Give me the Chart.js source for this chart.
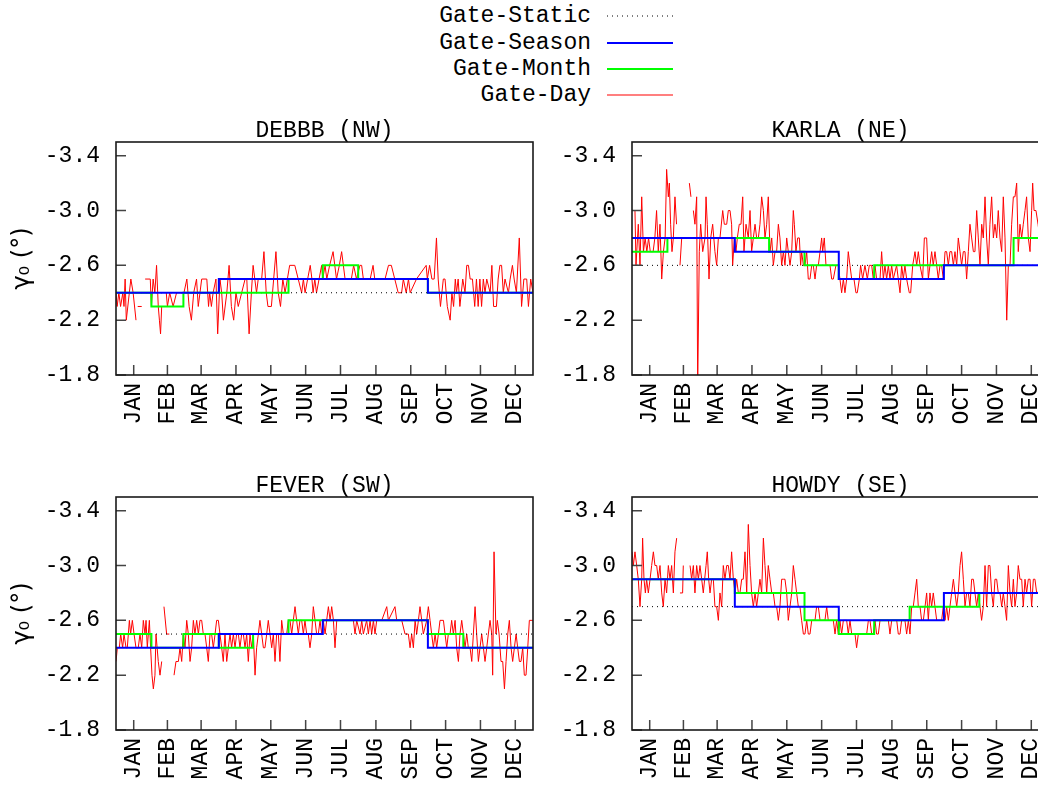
<!DOCTYPE html>
<html><head><meta charset="utf-8">
<script src="https://cdn.jsdelivr.net/npm/chart.js@4"></script>
<style>
html,body{margin:0;padding:0;width:1038px;height:789px;overflow:hidden;background:#fff;}
canvas{position:absolute;}
.lg{position:absolute;right:447px;font:23px 'Liberation Mono',monospace;line-height:26px;height:26px;color:#000;white-space:pre;}
svg.ls{position:absolute;left:606px;width:70px;height:10px;}
</style></head><body>
<div id="legend"></div>
<canvas id="c0" width="560" height="340" style="left:0;top:110px;width:560px;height:340px"></canvas>
<canvas id="c1" width="540" height="340" style="left:540px;top:110px;width:540px;height:340px"></canvas>
<canvas id="c2" width="560" height="324" style="left:0;top:465px;width:560px;height:324px"></canvas>
<canvas id="c3" width="540" height="324" style="left:540px;top:465px;width:540px;height:324px"></canvas>
<script>
const seriesNames = ['Gate-Static','Gate-Season','Gate-Month','Gate-Day'];
const panelTitles = ['DEBBB (NW)','KARLA (NE)','FEVER (SW)','HOWDY (SE)'];
const monthLabels = ['JAN','FEB','MAR','APR','MAY','JUN','JUL','AUG','SEP','OCT','NOV','DEC'];
const monthTicks = [15.5,45,74.5,105,135.5,166,196.5,227.5,258,288.5,319,349.5];
const monthStarts = [0,31,59,90,120,151,181,212,243,273,304,334];
const seasonStarts = [0,90,181,273];
const yTicks = [-3.4,-3.0,-2.6,-2.2,-1.8];
const yTitle = 'γ₀ (°)';

const debbbStatic = -2.4;
const debbbSeason = [-2.4,-2.5,-2.5,-2.4];
const debbbMonth = [-2.4,-2.3,-2.4,-2.4,-2.4,-2.5,-2.6,-2.5,-2.5,-2.4,-2.4,-2.4];
const debbbDay = [[0,-2.4],[1,-2.3],[2.5,-2.4],[4,-2.3],[6,-2.4],[7,-2.3],[8,-2.5],[9,-2.2],[13,-2.5],[15,-2.4],[17.5,-2.2],[18.5,null],[19,-2.3],[22.5,-2.3],[24,null],[25.5,-2.5],[30,-2.5],[31,-2.3],[32.5,-2.5],[34,-2.4],[35.5,-2.6],[37,-2.3],[38,-2.2],[39,-2.1],[40,-2.3],[42,null],[44,-2.4],[45,-2.3],[47,-2.4],[50,-2.3],[53,-2.4],[56,-2.4],[59.5,-2.4],[62,-2.5],[64,-2.3],[66,-2.2],[68,-2.4],[70.5,-2.5],[72,-2.3],[75,-2.5],[79.5,-2.5],[81,-2.3],[82,-2.4],[83.5,-2.3],[85,-2.4],[87.5,-2.5],[89,-2.1],[91,-2.5],[92.5,-2.4],[94,-2.2],[97,-2.4],[99,-2.6],[101,-2.3],[103,-2.2],[105,-2.4],[107,-2.3],[110,-2.4],[113,-2.5],[114.5,-2.5],[116.5,-2.1],[118.5,-2.4],[120,-2.6],[121.5,-2.5],[123,-2.4],[124.5,-2.5],[127.5,-2.5],[129.5,-2.7],[131.5,-2.4],[133,-2.3],[136,-2.3],[138,-2.5],[140,-2.7],[142,-2.4],[144,-2.3],[146,-2.5],[148,-2.4],[150,-2.5],[152,-2.6],[156.5,-2.6],[159.5,-2.5],[162.5,-2.4],[164,-2.5],[165.5,-2.4],[170,-2.6],[171.5,-2.5],[172.5,-2.4],[174,-2.5],[175.5,-2.4],[180,-2.6],[181,-2.5],[183,-2.6],[184.5,-2.5],[187,-2.6],[190,-2.7],[191.5,-2.6],[193,-2.5],[195.5,-2.6],[197.5,-2.7],[199,-2.6],[200.5,-2.5],[206,-2.5],[208,-2.6],[210.5,-2.5],[213.5,-2.6],[215,-2.6],[216.5,-2.5],[222.5,-2.5],[225,-2.6],[226.5,-2.5],[235.5,-2.5],[238.5,-2.6],[241,-2.6],[244,-2.5],[247,-2.4],[250,-2.4],[251.5,-2.5],[254,-2.4],[256,-2.5],[257.5,-2.4],[263,-2.5],[271.5,-2.6],[272.5,-2.5],[274.5,-2.6],[276.5,-2.5],[278.5,-2.5],[280.5,-2.8],[282,-2.5],[284,-2.3],[286.5,-2.5],[288,-2.5],[290,-2.3],[292.5,-2.2],[294,-2.4],[295.5,-2.3],[297,-2.5],[298,-2.4],[299.5,-2.5],[301,-2.3],[303.5,-2.5],[305.5,-2.4],[307,-2.6],[308.5,-2.6],[310,-2.5],[312,-2.5],[314,-2.3],[315.5,-2.5],[317,-2.3],[318.5,-2.5],[320,-2.3],[321.5,-2.5],[323,-2.4],[324.5,-2.5],[327.5,-2.4],[329,-2.6],[330.5,-2.3],[333,-2.3],[334.5,-2.5],[336,-2.6],[337.5,-2.6],[339,-2.4],[340.5,-2.5],[343.5,-2.4],[345,-2.5],[347,-2.6],[348.5,-2.5],[350.5,-2.4],[353,-2.8],[355,-2.3],[357,-2.5],[359.5,-2.5],[361,-2.3],[363,-2.5],[365,-2.4]];

const karlaStatic = -2.6;
const karlaSeason = [-2.8,-2.7,-2.5,-2.6];
const karlaMonth = [-2.7,-2.8,-2.8,-2.8,-2.7,-2.6,-2.5,-2.6,-2.6,-2.6,-2.6,-2.8];
const karlaDay = [[0,-3.0],[2.6,-3.0],[3.5,-2.6],[5.5,-2.9],[7,-2.6],[8.5,-3.1],[10,-2.7],[11.5,-2.8],[13,-2.7],[14.5,-2.8],[16,-2.7],[18.5,-2.7],[20,-2.8],[21.5,-3.0],[23,-2.7],[24.5,-2.9],[26,-2.5],[27.5,-2.7],[29,-2.8],[30.3,-3.3],[31.8,-3.1],[32.7,-3.2],[33.8,-2.9],[35,-2.7],[36.2,-2.8],[37.6,-3.1],[39,-2.9],[40,null],[42,-2.6],[43.5,-2.8],[45,null],[50.2,-3.2],[51.6,-3.1],[52.5,null],[53.7,-3.0],[55.1,-2.9],[56.6,-3.1],[57.5,-1.7],[58.9,-2.7],[60.1,-2.9],[61.9,-2.7],[63.9,-2.8],[64.8,-3.1],[65.9,-2.9],[67.4,-2.5],[68.9,-2.8],[70.6,-2.9],[72.6,-2.7],[74.1,-2.6],[75.6,-2.8],[77,-2.8],[79.4,-3.0],[80.8,-2.9],[82.9,-2.9],[84.3,-3.0],[85.8,-3.0],[87.2,-2.9],[88.1,-2.6],[89.6,-2.8],[91,-2.7],[92.2,-2.8],[93.9,-2.9],[95.4,-2.9],[96.9,-3.1],[98,-2.7],[99.8,-2.9],[101.8,-2.8],[103.3,-3.0],[104.7,-2.7],[106.2,-2.8],[107.7,-2.9],[109.1,-2.8],[110.6,-2.8],[112,-2.9],[113.5,-3.1],[115,-3.0],[116.4,-2.8],[117.9,-2.9],[119.3,-3.1],[120.8,-2.7],[122.3,-2.8],[123.7,-2.6],[125.2,-2.7],[126.6,-2.7],[128.1,-2.9],[129.5,-2.8],[131,-2.6],[132.5,-2.7],[133.9,-2.6],[135.4,-2.8],[136.8,-2.7],[138.3,-2.6],[139.8,-2.7],[141.2,-3.0],[142.1,-2.9],[143.5,-2.7],[145,-2.8],[146.5,-2.8],[147.6,-2.6],[148.5,-2.7],[150,-2.6],[151.4,-2.6],[152.9,-2.7],[154.3,-2.5],[155.8,-2.5],[157.3,-2.6],[158.7,-2.6],[160.2,-2.5],[161.6,-2.6],[163.1,-2.6],[164.6,-2.7],[166,-2.8],[166.9,-2.7],[168.3,-2.8],[169.8,-2.6],[171.8,-2.6],[173.3,-2.6],[174.8,-2.5],[176.2,-2.5],[178.5,-2.6],[180.6,-2.6],[182,-2.5],[183.5,-2.4],[185,-2.5],[186.4,-2.4],[187.9,-2.5],[189.3,-2.7],[190.8,-2.6],[192.3,-2.5],[194.3,-2.5],[196,-2.4],[197.2,-2.4],[199,-2.5],[200.1,-2.6],[201.9,-2.5],[203.9,-2.6],[206,-2.5],[207.7,-2.6],[209.8,-2.6],[211.2,-2.5],[212.7,-2.6],[214.1,-2.5],[217.1,-2.5],[218.5,-2.7],[220,-2.5],[221.4,-2.6],[222.9,-2.5],[224.4,-2.6],[225.8,-2.5],[227.3,-2.6],[228.7,-2.5],[231.6,-2.6],[233.1,-2.5],[234.6,-2.4],[236,-2.6],[237.5,-2.5],[238.9,-2.6],[240.4,-2.5],[242.7,-2.4],[243.9,-2.4],[245.7,-2.6],[247.7,-2.7],[249.2,-2.6],[250.6,-2.7],[252.1,-2.6],[254.4,-2.5],[255.9,-2.8],[257.9,-2.8],[259.4,-2.5],[260.8,-2.6],[262.3,-2.7],[263.7,-2.6],[265.2,-2.7],[266.7,-2.6],[268.1,-2.5],[269.6,-2.6],[271,-2.6],[272.5,-2.5],[274,-2.7],[275.4,-2.7],[276.9,-2.6],[278.3,-2.7],[279.8,-2.7],[281.3,-2.6],[282.7,-2.7],[284.2,-2.6],[285.6,-2.8],[287.1,-2.7],[288.5,-2.6],[290,-2.7],[291.5,-2.7],[292.9,-2.5],[294.4,-2.7],[295.8,-2.9],[297.3,-2.8],[298.8,-2.7],[300.2,-2.7],[301.7,-3.0],[303.1,-2.8],[304.6,-2.6],[306.1,-2.9],[307.5,-2.8],[309,-3.1],[310.4,-2.8],[311.9,-2.6],[313.3,-2.9],[314.8,-3.1],[316.3,-2.8],[317.7,-2.9],[319.2,-2.8],[320.6,-3.0],[322.1,-2.8],[323.6,-2.7],[325,-3.1],[326.5,-2.8],[328,-2.2],[329.4,-2.6],[330.9,-2.6],[332.3,-2.9],[333.8,-3.1],[335.2,-3.1],[336.7,-3.2],[338.1,-2.7],[339.6,-2.9],[341.1,-2.8],[342.5,-2.9],[344,-3.0],[345.4,-3.1],[346.9,-2.8],[348.4,-2.7],[349.8,-3.0],[350.7,-3.2],[351.9,-3.0],[353.6,-3.0],[355.4,-2.9],[357,-2.8],[359,-3.0],[361,-2.9],[363,-2.8],[365,-2.9]];

const feverStatic = -2.5;
const feverSeason = [-2.4,-2.5,-2.6,-2.4];
const feverMonth = [-2.5,-2.4,-2.5,-2.4,-2.5,-2.6,-2.6,-2.6,-2.6,-2.5,-2.4,-2.4];
const feverDay = [[0,-2.3],[1.2,-2.4],[2.9,-2.4],[4.1,-2.5],[5.8,-2.4],[7,-2.5],[8.8,-2.4],[9.9,-2.4],[11.7,-2.6],[12.8,-2.5],[14.3,-2.6],[15.8,-2.5],[17.5,-2.4],[19.5,-2.4],[21,-2.5],[22.5,-2.4],[23.9,-2.6],[25.4,-2.5],[26.3,-2.6],[27.4,-2.4],[29.2,-2.6],[30.3,-2.4],[31.5,-2.2],[32.7,-2.1],[34.1,-2.2],[35,-2.5],[37,-2.3],[38.5,-2.2],[40,-2.3],[41,null],[42,-2.7],[44.3,-2.5],[46.7,-2.5],[48,null],[50.8,-2.2],[52.5,-2.3],[54.6,-2.3],[56,-2.4],[57.5,-2.3],[58.9,-2.5],[60.4,-2.4],[61.9,-2.6],[63.3,-2.5],[64.8,-2.3],[66.2,-2.4],[67.7,-2.6],[69.1,-2.5],[70.6,-2.6],[72.1,-2.5],[73.5,-2.6],[75,-2.6],[76.4,-2.5],[77.9,-2.5],[79.4,-2.4],[80.8,-2.3],[82.3,-2.5],[83.7,-2.5],[85.2,-2.4],[86.7,-2.5],[88.1,-2.6],[89.6,-2.6],[91,-2.5],[92.5,-2.4],[93.9,-2.3],[95.4,-2.5],[96.9,-2.3],[98.3,-2.4],[99.8,-2.5],[101.2,-2.4],[102.7,-2.5],[104.2,-2.4],[105.6,-2.5],[107.1,-2.5],[108.5,-2.4],[110,-2.5],[111.5,-2.5],[112.9,-2.4],[114.4,-2.5],[115.8,-2.3],[117.3,-2.5],[118.7,-2.4],[120.2,-2.5],[121.7,-2.2],[123.1,-2.4],[124.6,-2.5],[126,-2.6],[127.5,-2.5],[129,-2.4],[130.4,-2.4],[131.9,-2.5],[133.3,-2.6],[134.8,-2.5],[136.3,-2.4],[137.7,-2.5],[139.2,-2.3],[140.6,-2.5],[142.1,-2.5],[143.5,-2.3],[145,-2.6],[146.5,-2.5],[149.4,-2.5],[150.8,-2.6],[152.3,-2.6],[153.8,-2.5],[155.2,-2.6],[156.7,-2.7],[158.1,-2.6],[159.6,-2.5],[161,-2.6],[162.5,-2.6],[164,-2.5],[165.4,-2.6],[166.9,-2.5],[168.3,-2.5],[169.8,-2.4],[171.3,-2.5],[172.7,-2.7],[174.2,-2.6],[175.6,-2.5],[177.1,-2.5],[178.6,-2.6],[180,-2.5],[181.5,-2.6],[183,-2.5],[184.4,-2.6],[185.9,-2.7],[187.4,-2.6],[188.8,-2.7],[190.3,-2.6],[191.7,-2.4],[193.2,-2.6],[196.1,-2.6],[207.8,-2.6],[209.2,-2.5],[210.7,-2.6],[213.6,-2.5],[215.1,-2.6],[216.5,-2.5],[219.4,-2.6],[220.9,-2.5],[222.4,-2.6],[223.8,-2.5],[225.3,-2.6],[226.7,-2.5],[228.2,-2.6],[232.6,-2.6],[237,-2.7],[238.4,-2.6],[244.2,-2.7],[245.7,-2.6],[250.1,-2.6],[253,-2.5],[255.9,-2.5],[257.4,-2.4],[258.8,-2.5],[260.3,-2.4],[261.8,-2.6],[263.2,-2.5],[264.7,-2.6],[266.1,-2.7],[267.6,-2.6],[269,-2.5],[272,-2.6],[273.4,-2.7],[274.9,-2.6],[276.3,-2.5],[277.8,-2.4],[279.3,-2.5],[280.7,-2.4],[282.2,-2.5],[283.6,-2.6],[286.6,-2.6],[288,-2.5],[289.5,-2.4],[290.9,-2.5],[292.4,-2.5],[293.8,-2.6],[295.3,-2.5],[296.8,-2.6],[298.2,-2.4],[299.7,-2.3],[301.1,-2.5],[302.6,-2.6],[304.1,-2.5],[305.5,-2.4],[307,-2.5],[308.4,-2.4],[309.9,-2.4],[311.4,-2.3],[312.8,-2.5],[314.3,-2.7],[315.7,-2.5],[317.2,-2.3],[318.6,-2.4],[320.1,-2.5],[321.6,-2.4],[323,-2.3],[324.5,-2.4],[325.9,-2.5],[327.4,-2.6],[328.9,-2.5],[329.7,-2.2],[330.9,-3.1],[332.6,-2.5],[333.8,-2.6],[335.3,-2.5],[337,-2.3],[338.5,-2.3],[340,-2.1],[341.4,-2.3],[342.9,-2.5],[344.3,-2.6],[345.8,-2.4],[347.2,-2.3],[348.7,-2.4],[350.2,-2.5],[351.6,-2.4],[353.1,-2.3],[354.5,-2.3],[356,-2.4],[357.4,-2.2],[358.9,-2.2],[360.4,-2.4],[361.8,-2.6],[363.3,-2.6],[365,-2.6]];

const howdyStatic = -2.7;
const howdySeason = [-2.9,-2.7,-2.6,-2.8];
const howdyMonth = [-2.9,-2.9,-2.9,-2.8,-2.8,-2.6,-2.5,-2.6,-2.7,-2.7,-2.8,-2.8];
const howdyDay = [[0,-3.1],[1.2,-3.0],[2.6,-3.1],[4.1,-3.0],[5.5,-2.9],[7,-2.7],[8.5,-2.9],[9.3,-3.2],[10.5,-2.9],[11.7,-2.8],[12.8,-2.9],[14.3,-2.8],[15.8,-2.9],[17.2,-3.0],[18.7,-3.1],[20.1,-3.0],[21.6,-3.0],[23,-2.9],[24.5,-3.0],[26,-2.8],[27.4,-2.7],[28.9,-2.9],[30.3,-2.8],[31.8,-3.0],[33.3,-2.9],[34.7,-3.0],[36.2,-2.8],[37.6,-3.1],[39.1,-3.2],[40.5,null],[42,-2.8],[44.3,-2.8],[44.9,-3.0],[46,null],[50.8,-3.0],[52.2,-2.9],[53.7,-3.0],[55.1,-2.8],[56.6,-3.0],[58.1,-2.9],[59.5,-3.0],[61,-2.9],[62.4,-2.8],[64.8,-3.0],[65.9,-3.1],[67.1,-2.9],[68.3,-2.8],[69.7,-2.9],[71.2,-2.9],[72.6,-2.7],[74.1,-2.7],[75.6,-2.6],[77,-2.8],[78.5,-2.7],[79.9,-3.0],[81.4,-2.9],[82.9,-3.0],[84.3,-3.0],[85.8,-2.9],[87.2,-3.1],[88.7,-2.9],[90.2,-2.8],[91.6,-2.9],[93.1,-2.8],[94.5,-2.8],[96,-2.9],[97.4,-2.9],[98.9,-3.1],[100.4,-2.8],[101.8,-3.3],[103.3,-3.0],[104.7,-2.8],[106.2,-2.7],[107.7,-2.8],[109.1,-2.7],[110.6,-2.8],[112,-2.9],[113.5,-2.8],[115,-3.2],[116.4,-3.0],[117.9,-2.8],[119.3,-3.0],[120.8,-2.9],[122.3,-2.8],[123.7,-2.8],[125.2,-2.7],[126.6,-2.7],[128.1,-2.6],[129.5,-2.7],[131,-2.9],[132.5,-2.9],[133.9,-2.9],[135.4,-2.8],[136.8,-2.6],[138.3,-2.7],[139.8,-2.8],[141.2,-3.0],[142.7,-2.9],[144.1,-2.8],[145.6,-2.7],[147,-2.7],[148.5,-2.6],[150,-2.5],[151.4,-2.5],[152.9,-2.6],[154.3,-2.5],[155.8,-2.5],[157.3,-2.6],[158.7,-2.6],[160.2,-2.6],[161.6,-2.7],[163.1,-2.7],[164.6,-2.6],[166,-2.6],[167.5,-2.6],[168.9,-2.6],[170.4,-2.7],[171.8,-2.6],[173.3,-2.6],[176.2,-2.6],[177.7,-2.5],[179.1,-2.6],[180.6,-2.5],[182,-2.6],[183.5,-2.5],[185,-2.6],[187.9,-2.6],[189.3,-2.5],[190.8,-2.6],[192.3,-2.5],[195.2,-2.5],[196.6,-2.4],[198.1,-2.5],[205.4,-2.5],[206.9,-2.6],[208.3,-2.6],[209.8,-2.5],[211.2,-2.5],[212.7,-2.6],[214.1,-2.5],[215.6,-2.5],[217.1,-2.6],[224.4,-2.6],[225.8,-2.5],[227.3,-2.6],[231.7,-2.6],[233.1,-2.5],[234.6,-2.5],[236,-2.6],[238.9,-2.6],[240.4,-2.5],[241.9,-2.6],[243.3,-2.5],[244.8,-2.7],[246.2,-2.7],[247.7,-2.8],[249.2,-2.9],[250.6,-2.7],[252.1,-2.7],[253.5,-2.6],[255,-2.6],[256.5,-2.7],[257.9,-2.8],[259.4,-2.6],[260.8,-2.8],[262.3,-2.7],[263.7,-2.8],[265.2,-2.7],[266.7,-2.6],[269.6,-2.6],[271,-2.6],[272.5,-2.7],[274,-2.6],[275.4,-2.7],[276.9,-2.6],[278.3,-2.7],[279.8,-2.8],[281.3,-2.9],[282.7,-2.8],[284.2,-2.7],[285.6,-2.8],[287.1,-3.0],[288.5,-3.1],[290,-2.9],[291.5,-2.7],[292.9,-2.8],[294.4,-2.8],[295.8,-2.7],[297.3,-2.9],[298.8,-2.9],[300.2,-2.8],[301.7,-2.7],[303.1,-2.8],[304.6,-2.7],[306,-2.6],[307.5,-2.7],[309,-3.0],[310.4,-2.7],[311.9,-3.0],[313.3,-3.0],[314.8,-2.8],[316.3,-2.7],[317.7,-2.9],[319.2,-2.9],[320.6,-2.8],[322.1,-2.8],[323.6,-2.7],[325,-2.8],[326.5,-2.7],[327.9,-2.6],[329.4,-3.0],[330.9,-2.8],[332.3,-2.7],[333.8,-2.9],[335.2,-2.7],[336.7,-2.8],[338.1,-3.0],[339.6,-2.9],[341.1,-2.9],[342.5,-2.7],[344,-2.9],[345.4,-2.8],[346.9,-2.9],[348.4,-2.9],[349.8,-2.7],[351.3,-2.9],[352.7,-2.9],[354.2,-2.8],[355.4,-2.8],[358,-2.9],[361,-2.7],[365,-2.9]];

const FONT = "'Liberation Mono', 'DejaVu Sans Mono', monospace";
const font = {family: FONT, size: 23};

// legend (HTML, real text)
const legendColors = ['#000000','#0000ff','#00ff00','#ff0000'];
const legendRows = [16,43,69,95];
const lg = document.getElementById('legend');
seriesNames.forEach((n,i)=>{
  const d = document.createElement('div');
  d.className='lg'; d.style.top=(legendRows[i]-13)+'px'; d.textContent=n; lg.appendChild(d);
  const s = document.createElementNS('http://www.w3.org/2000/svg','svg');
  s.setAttribute('class','ls'); s.style.top=(legendRows[i]-5)+'px';
  const l = document.createElementNS('http://www.w3.org/2000/svg','line');
  l.setAttribute('x1','1'); l.setAttribute('x2','67'); l.setAttribute('y1','5'); l.setAttribute('y2','5');
  l.setAttribute('stroke',legendColors[i]);
  l.setAttribute('stroke-width', i===0?1:(i===3?1.2:2));
  if(i===0) l.setAttribute('stroke-dasharray','1 4');
  s.appendChild(l); lg.appendChild(s);
});

function stepPts(starts, vals){
  const p = starts.map((d,i)=>({x:d,y:vals[i]}));
  p.push({x:365,y:vals[vals.length-1]});
  return p;
}

const framePlugin = {
  id:'frame',
  afterDatasetsDraw(chart){
    const {ctx, chartArea:a, scales} = chart;
    ctx.save();
    ctx.beginPath();
    ctx.strokeStyle='#444'; ctx.lineWidth=1.5;
    scales.y.ticks.forEach(t=>{const y=scales.y.getPixelForValue(t.value); ctx.moveTo(a.left,y); ctx.lineTo(a.left+10,y);});
    scales.x.ticks.forEach(t=>{const x=scales.x.getPixelForValue(t.value); ctx.moveTo(x,a.bottom); ctx.lineTo(x,a.bottom-10);});
    ctx.stroke();
    ctx.strokeStyle='#1a1a1a'; ctx.lineWidth=1.6;
    ctx.strokeRect(a.left, a.top, a.right-a.left, a.bottom-a.top);
    ctx.restore();
  }
};

function makePanel(id, title, daily, month, season, stat, leftSide, h){
  const yW = leftSide ? 116 : 92;
  const padR = leftSide ? 27 : 31;
  const xH = h - 32 - 233;
  new Chart(document.getElementById(id), {
    type:'line',
    data:{datasets:[
      {label:seriesNames[1], data:stepPts(seasonStarts, season), borderColor:'#0000ff', borderWidth:2, stepped:'before', order:0},
      {label:seriesNames[2], data:stepPts(monthStarts, month), borderColor:'#00ff00', borderWidth:2, stepped:'before', order:1},
      {label:seriesNames[0], data:[{x:0,y:stat},{x:365,y:stat}], borderColor:'#000000', borderWidth:1, borderDash:[1,4], order:2},
      {label:seriesNames[3], data:daily.map(([x,y])=>({x,y})), borderColor:'#ff0000', borderWidth:1, spanGaps:false, order:3}
    ]},
    options:{
      responsive:false, animation:false, devicePixelRatio:1,
      layout:{padding:{left:0,right:padR,top:0,bottom:0}},
      elements:{point:{radius:0,hitRadius:0,hoverRadius:0}, line:{tension:0}},
      plugins:{legend:{display:false}, tooltip:{enabled:false}},
      events:[],
      scales:{
        x:{type:'linear', position:'bottom', min:0, max:365,
          afterBuildTicks:s=>{s.ticks = monthTicks.map(v=>({value:v}));},
          afterFit:s=>{s.height = xH;},
          grid:{display:false, drawTicks:false}, border:{display:false},
          ticks:{autoSkip:false, maxRotation:90, minRotation:90, padding:8, color:'#000', font,
                 callback:(v,i)=>monthLabels[i]}},
        xt:{type:'linear', position:'top', display:true,
          afterFit:s=>{s.height = 32;},
          grid:{display:false, drawTicks:false}, border:{display:false}, ticks:{display:false},
          title:{display:true, text:title, color:'#000', font, padding:{top:7,bottom:0}}},
        y:{type:'linear', position:'left', reverse:true, min:-3.5, max:-1.8,
          afterBuildTicks:s=>{s.ticks = yTicks.map(v=>({value:v}));},
          afterFit:s=>{s.width = yW;},
          grid:{display:false, drawTicks:false}, border:{display:false},
          ticks:{padding:16, color:'#000', font, callback:v=>Number(v).toFixed(1)},
          title:{display:leftSide, text:yTitle, color:'#000', font:{family:"'DejaVu Sans', 'Liberation Mono', sans-serif",size:24}, padding:{top:8,bottom:0}}}
      }
    },
    plugins:[framePlugin]
  });
}

makePanel('c0', panelTitles[0], debbbDay, debbbMonth, debbbSeason, debbbStatic, true, 340);
makePanel('c1', panelTitles[1], karlaDay, karlaMonth, karlaSeason, karlaStatic, false, 340);
makePanel('c2', panelTitles[2], feverDay, feverMonth, feverSeason, feverStatic, true, 324);
makePanel('c3', panelTitles[3], howdyDay, howdyMonth, howdySeason, howdyStatic, false, 324);
</script>
</body></html>
